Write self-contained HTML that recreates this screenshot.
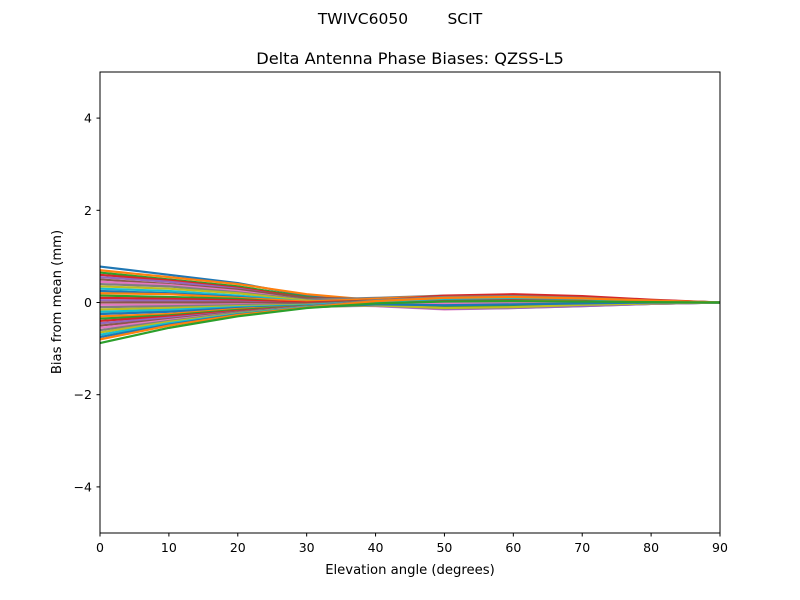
<!DOCTYPE html>
<html><head><meta charset="utf-8"><style>
body{margin:0;background:#fff}
svg{display:block;font-family:"DejaVu Sans","Liberation Sans",sans-serif}
</style></head><body>
<svg id="chart" width="800" height="600" viewBox="0 0 800 600">
<text x="400" y="24" font-size="15.5" text-anchor="middle" xml:space="preserve">TWIVC6050        SCIT</text>
<text x="410" y="64" font-size="16.2" text-anchor="middle">Delta Antenna Phase Biases: QZSS-L5</text>
<g id="lines"></g>
<rect x="100" y="72" width="620" height="461" fill="none" stroke="#000" stroke-width="1"/>
<g id="axes"></g>
<text x="410" y="574" font-size="13.2" text-anchor="middle">Elevation angle (degrees)</text>
<text transform="translate(61,302) rotate(-90)" font-size="13.2" text-anchor="middle">Bias from mean (mm)</text>
</svg>
<script>
const elev=[0,10,20,30,40,50,60,70,80,90];
const xTicks=[0,10,20,30,40,50,60,70,80,90];
const yTicks=[-4,-2,0,2,4];
const yTickLabels=["\u22124","\u22122","0","2","4"];
const series=[
[0.78,0.6,0.42,0.15,0.02,-0.05,-0.08,-0.06,-0.03,0],
[0.7,0.55,0.4,0.18,0.05,0,-0.03,-0.04,-0.02,0],
[0.65,0.5,0.35,0.12,-0.02,-0.08,-0.1,-0.07,-0.03,0],
[0.6,0.48,0.32,0.1,0.04,0.06,0.05,0.02,0.01,0],
[0.55,0.45,0.3,0.08,-0.05,-0.1,-0.08,-0.05,-0.02,0],
[0.5,0.4,0.28,0.1,0.08,0.12,0.1,0.06,0.02,0],
[0.45,0.38,0.25,0.05,0,-0.02,0,0.01,0,0],
[0.4,0.35,0.22,0.06,0.1,0.15,0.14,0.1,0.05,0],
[0.35,0.3,0.2,0.04,-0.04,-0.06,-0.04,-0.02,0,0],
[0.3,0.25,0.15,0.02,0.06,0.1,0.12,0.1,0.04,0],
[0.25,0.2,0.12,0,-0.03,-0.05,-0.02,0,0,0],
[0.2,0.18,0.1,0.02,0.08,0.14,0.16,0.12,0.05,0],
[0.15,0.12,0.08,-0.02,-0.06,-0.12,-0.1,-0.06,-0.02,0],
[0.1,0.08,0.05,0,0.04,0.08,0.1,0.08,0.03,0],
[0.05,0.04,0.02,-0.03,-0.02,-0.02,0,0.02,0.01,0],
[0,0,0,-0.02,0.05,0.1,0.12,0.1,0.04,0],
[-0.05,-0.05,-0.04,-0.05,-0.08,-0.15,-0.12,-0.08,-0.03,0],
[-0.1,-0.08,-0.06,-0.04,0.02,0.06,0.08,0.06,0.02,0],
[-0.15,-0.12,-0.08,-0.05,-0.04,-0.05,-0.03,-0.02,0,0],
[-0.2,-0.16,-0.1,-0.06,0.03,0.12,0.15,0.12,0.05,0],
[-0.25,-0.2,-0.12,-0.07,-0.06,-0.1,-0.1,-0.06,-0.02,0],
[-0.3,-0.25,-0.14,-0.08,0.01,0.05,0.06,0.05,0.02,0],
[-0.35,-0.28,-0.16,-0.08,-0.05,-0.08,-0.06,-0.04,-0.01,0],
[-0.4,-0.3,-0.18,-0.09,0.04,0.15,0.18,0.14,0.06,0],
[-0.45,-0.33,-0.2,-0.09,-0.07,-0.14,-0.12,-0.08,-0.03,0],
[-0.5,-0.36,-0.2,-0.1,0,0.04,0.08,0.07,0.03,0],
[-0.55,-0.38,-0.22,-0.1,-0.03,-0.02,0,0,0,0],
[-0.6,-0.4,-0.22,-0.1,0.05,0.12,0.14,0.1,0.04,0],
[-0.65,-0.42,-0.24,-0.1,-0.06,-0.12,-0.1,-0.05,-0.02,0],
[-0.7,-0.45,-0.25,-0.1,0.02,0.08,0.1,0.08,0.03,0],
[-0.75,-0.48,-0.26,-0.11,-0.04,-0.06,-0.04,-0.02,0,0],
[-0.8,-0.5,-0.27,-0.11,0.03,0.1,0.12,0.09,0.04,0],
[-0.88,-0.55,-0.3,-0.12,-0.02,0.02,0.03,0.02,0.01,0]
];
const colors=["#1f77b4","#ff7f0e","#2ca02c","#d62728","#9467bd","#8c564b","#e377c2","#7f7f7f","#bcbd22","#17becf"];
const NS="http://www.w3.org/2000/svg";
const x=v=>100+(v-0)/90*620;
const y=v=>302.5-v*46.1;
const g=document.getElementById('lines');
series.forEach((s,i)=>{
  const p=document.createElementNS(NS,'polyline');
  p.setAttribute('points',s.map((v,j)=>x(elev[j])+','+y(v)).join(' '));
  p.setAttribute('fill','none');
  p.setAttribute('stroke',colors[i%10]);
  p.setAttribute('stroke-width','2.2');
  p.setAttribute('stroke-linejoin','round');
  
  
  g.appendChild(p);
});
const ax=document.getElementById('axes');
xTicks.forEach(t=>{
  const l=document.createElementNS(NS,'line');
  l.setAttribute('x1',x(t));l.setAttribute('x2',x(t));l.setAttribute('y1',533);l.setAttribute('y2',536.5);l.setAttribute('stroke','#000');
  
  
  ax.appendChild(l);
  const tx=document.createElementNS(NS,'text');
  tx.setAttribute('x',x(t));tx.setAttribute('y',552);tx.setAttribute('font-size','12.5');tx.setAttribute('text-anchor','middle');
  tx.textContent=t;
  
  
  ax.appendChild(tx);
});
yTicks.forEach((t,i)=>{
  const l=document.createElementNS(NS,'line');
  l.setAttribute('x1',96.5);l.setAttribute('x2',100);l.setAttribute('y1',y(t));l.setAttribute('y2',y(t));l.setAttribute('stroke','#000');
  
  
  ax.appendChild(l);
  const tx=document.createElementNS(NS,'text');
  tx.setAttribute('x',92);tx.setAttribute('y',y(t)+4.5);tx.setAttribute('font-size','12.5');tx.setAttribute('text-anchor','end');
  tx.textContent=yTickLabels[i];
  
  
  ax.appendChild(tx);
});
</script>
</body></html>
